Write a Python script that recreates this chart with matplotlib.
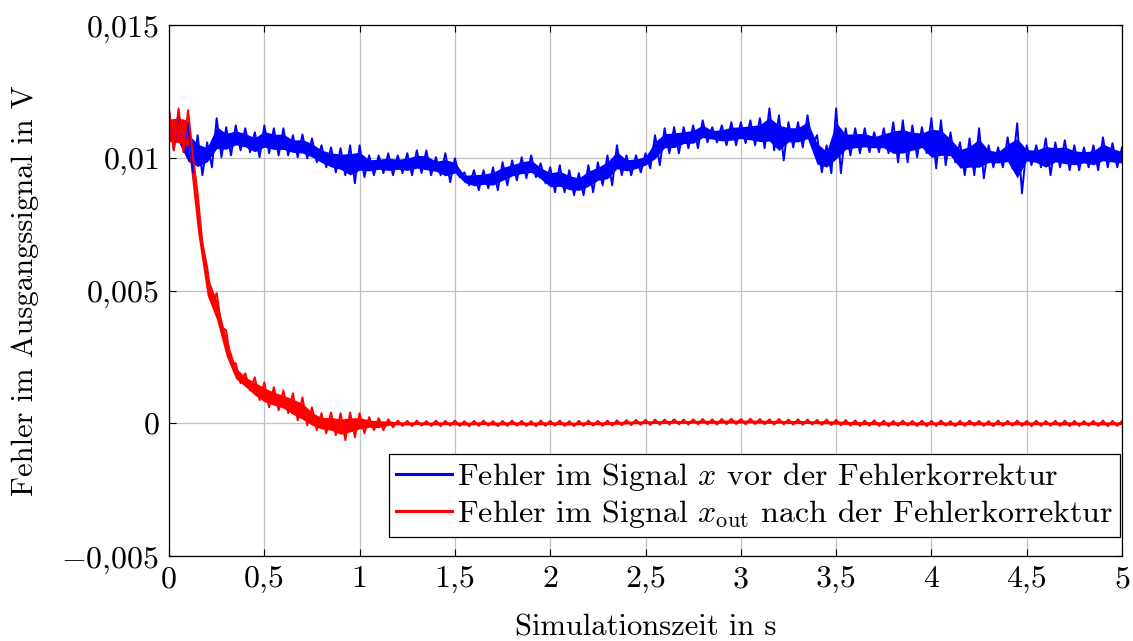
import numpy as np
import matplotlib
matplotlib.use("Agg")
import matplotlib.pyplot as plt

plt.rcParams['font.family'] = ['cmr10', 'DejaVu Serif']
plt.rcParams['mathtext.fontset'] = 'cm'
plt.rcParams['axes.unicode_minus'] = False

# Zeitachse (s), Schritt 0,05 s
zeit = np.round(np.arange(0, 5.0001, 0.05), 3)

# Fehler vor der Korrektur: obere / untere Rauschhuelle (V)
blau_oben = [0.01179, 0.01171, 0.01130, 0.01085, 0.01058, 0.01149, 0.01115, 0.01122, 0.01111, 0.01096,
             0.01122, 0.01111, 0.01111, 0.01085, 0.01088, 0.01073, 0.01047, 0.01039, 0.01036, 0.01047,
             0.01047, 0.01009, 0.01009, 0.01017, 0.01009, 0.01017, 0.01028, 0.01028, 0.01002, 0.01017,
             0.00998, 0.00945, 0.00953, 0.00953, 0.00964, 0.00983, 0.00990, 0.01002, 0.01009, 0.00979,
             0.00964, 0.00972, 0.00953, 0.00942, 0.00972, 0.00983, 0.01009, 0.01047, 0.01009, 0.01009,
             0.01017, 0.01085, 0.01111, 0.01115, 0.01115, 0.01122, 0.01141, 0.01115, 0.01122, 0.01134,
             0.01134, 0.01141, 0.01149, 0.01186, 0.01160, 0.01134, 0.01134, 0.01160, 0.01085, 0.01047,
             0.01186, 0.01111, 0.01111, 0.01111, 0.01096, 0.01111, 0.01134, 0.01141, 0.01122, 0.01115,
             0.01149, 0.01141, 0.01096, 0.01058, 0.01073, 0.01111, 0.01047, 0.01039, 0.01077, 0.01130,
             0.01047, 0.01047, 0.01073, 0.01058, 0.01066, 0.01047, 0.01039, 0.01047, 0.01077, 0.01055,
             0.01039]
blau_unten = [0.01028, 0.01028, 0.00945, 0.00934, 0.00964, 0.01002, 0.01009, 0.01028, 0.01021, 0.01002,
              0.01017, 0.01009, 0.01009, 0.01002, 0.00998, 0.00983, 0.00964, 0.00945, 0.00934, 0.00904,
              0.00927, 0.00934, 0.00942, 0.00934, 0.00942, 0.00934, 0.00942, 0.00934, 0.00934, 0.00908,
              0.00927, 0.00896, 0.00878, 0.00885, 0.00878, 0.00896, 0.00915, 0.00923, 0.00927, 0.00904,
              0.00870, 0.00870, 0.00859, 0.00859, 0.00870, 0.00896, 0.00896, 0.00934, 0.00934, 0.00945,
              0.00960, 0.00972, 0.01017, 0.01017, 0.01036, 0.01036, 0.01058, 0.01058, 0.01047, 0.01047,
              0.01055, 0.01047, 0.01036, 0.01028, 0.00990, 0.01039, 0.01039, 0.01047, 0.00945, 0.00942,
              0.00942, 0.01009, 0.01017, 0.01021, 0.01021, 0.01017, 0.00983, 0.00983, 0.01002, 0.01017,
              0.00960, 0.00972, 0.00983, 0.00934, 0.00934, 0.00923, 0.00964, 0.00964, 0.00960, 0.00866,
              0.00972, 0.00964, 0.00934, 0.00964, 0.00953, 0.00953, 0.00964, 0.00953, 0.00964, 0.00964,
              0.00964]

# Fehler nach der Korrektur: obere / untere Rauschhuelle (V)
rot_oben = [0.01179, 0.01186, 0.01179, 0.00866, 0.00588, 0.00490, 0.00350, 0.00226, 0.00188, 0.00173,
            0.00154, 0.00136, 0.00124, 0.00113, 0.00098, 0.00060, 0.00038, 0.00041, 0.00038, 0.00041,
            0.00038, 0.00023, 0.00019, 0.00015, 0.00010, 0.00009, 0.00010, 0.00008, 0.00010, 0.00009,
            0.00010, 0.00008, 0.00009, 0.00010, 0.00008, 0.00009, 0.00010, 0.00009, 0.00008, 0.00010,
            0.00009, 0.00010, 0.00008, 0.00009, 0.00010, 0.00009, 0.00010, 0.00011, 0.00012, 0.00013,
            0.00013, 0.00014, 0.00014, 0.00015, 0.00014, 0.00015, 0.00016, 0.00015, 0.00016, 0.00017,
            0.00016, 0.00017, 0.00016, 0.00015, 0.00016, 0.00014, 0.00015, 0.00014, 0.00013, 0.00014,
            0.00013, 0.00012, 0.00011, 0.00010, 0.00011, 0.00010, 0.00009, 0.00010, 0.00009, 0.00010,
            0.00009, 0.00010, 0.00008, 0.00009, 0.00010, 0.00009, 0.00008, 0.00010, 0.00009, 0.00010,
            0.00009, 0.00010, 0.00008, 0.00009, 0.00010, 0.00009, 0.00008, 0.00009, 0.00010, 0.00009,
            0.00009]
rot_unten = [0.01028, 0.01021, 0.01009, 0.00678, 0.00452, 0.00362, 0.00226, 0.00151, 0.00124, 0.00087,
             0.00060, 0.00049, 0.00038, 0.00011, -0.00008, -0.00026, -0.00038, -0.00045, -0.00064, -0.00053,
             -0.00038, -0.00026, -0.00026, -0.00015, -0.00010, -0.00011, -0.00009, -0.00010, -0.00011, -0.00009,
             -0.00010, -0.00011, -0.00010, -0.00009, -0.00011, -0.00010, -0.00009, -0.00010, -0.00011, -0.00010,
             -0.00009, -0.00010, -0.00011, -0.00010, -0.00009, -0.00010, -0.00009, -0.00008, -0.00007, -0.00006,
             -0.00006, -0.00005, -0.00005, -0.00004, -0.00005, -0.00004, -0.00004, -0.00005, -0.00004, -0.00003,
             -0.00004, -0.00003, -0.00004, -0.00005, -0.00004, -0.00005, -0.00006, -0.00005, -0.00006, -0.00007,
             -0.00008, -0.00009, -0.00010, -0.00009, -0.00010, -0.00011, -0.00010, -0.00009, -0.00010, -0.00011,
             -0.00010, -0.00009, -0.00011, -0.00010, -0.00009, -0.00010, -0.00011, -0.00010, -0.00009, -0.00010,
             -0.00011, -0.00010, -0.00009, -0.00010, -0.00011, -0.00010, -0.00009, -0.00010, -0.00011, -0.00010,
             -0.00010]

x_ticks = [0, 0.5, 1, 1.5, 2, 2.5, 3, 3.5, 4, 4.5, 5]
x_labels = ['0', '0,5', '1', '1,5', '2', '2,5', '3', '3,5', '4', '4,5', '5']
y_ticks = [-0.005, 0, 0.005, 0.01, 0.015]
y_labels = [r'$-0{,}005$', r'$0$', r'$0{,}005$', r'$0{,}01$', r'$0{,}015$']


def zickzack(t, oben, unten):
    # abwechselnd obere und untere Huelle -> Rauschband
    t = np.asarray(t)
    dt = t[1] - t[0]
    tt = np.column_stack([t, t + dt / 2]).ravel()[:-1]
    yy = np.column_stack([oben, unten]).ravel()[:-1]
    return tt, yy


def band(ax, t, oben, unten, farbe, label):
    oben = np.asarray(oben)
    unten = np.asarray(unten)
    breite = oben - unten
    # dichter Kern des Rauschens
    ax.fill_between(t, unten + 0.22 * breite, oben - 0.22 * breite, color=farbe, lw=0)
    tt, yy = zickzack(t, oben, unten)
    ax.plot(tt, yy, color=farbe, lw=1.4, label=label)


fig = plt.figure(figsize=(11.33, 6.41), dpi=100)
ax = fig.add_axes([0.1492, 0.1326, 0.8411, 0.8284])

band(ax, zeit, blau_oben, blau_unten, '#0000ff', r'Fehler im Signal $x$ vor der Fehlerkorrektur')
band(ax, zeit, rot_oben, rot_unten, '#ff0000', r'Fehler im Signal $x_{\mathrm{out}}$ nach der Fehlerkorrektur')

ax.set_xlim(0, 5)
ax.set_ylim(-0.005, 0.015)
ax.set_xticks(x_ticks)
ax.set_xticklabels(x_labels)
ax.set_yticks(y_ticks)
ax.set_yticklabels(y_labels)
ax.tick_params(direction='in', top=True, right=True, length=5, width=0.8, labelsize=23, pad=7)
ax.grid(True, color='#c0c0c0', lw=0.9)
ax.set_axisbelow(True)
for s in ax.spines.values():
    s.set_linewidth(0.9)

ax.set_xlabel('Simulationszeit in s', fontsize=22, labelpad=15)
ax.set_ylabel('Fehler im Ausgangssignal in V', fontsize=22, labelpad=16)

leg = ax.legend(loc='lower right', bbox_to_anchor=(0.998, 0.036), fontsize=23, fancybox=False,
                edgecolor='black', framealpha=1, handlelength=1.75, handletextpad=0.15,
                borderaxespad=0, labelspacing=0.15, borderpad=0.22)
leg.get_frame().set_linewidth(0.9)
for h in leg.get_lines():
    h.set_linewidth(2.2)

fig.savefig('out.png', dpi=100)
